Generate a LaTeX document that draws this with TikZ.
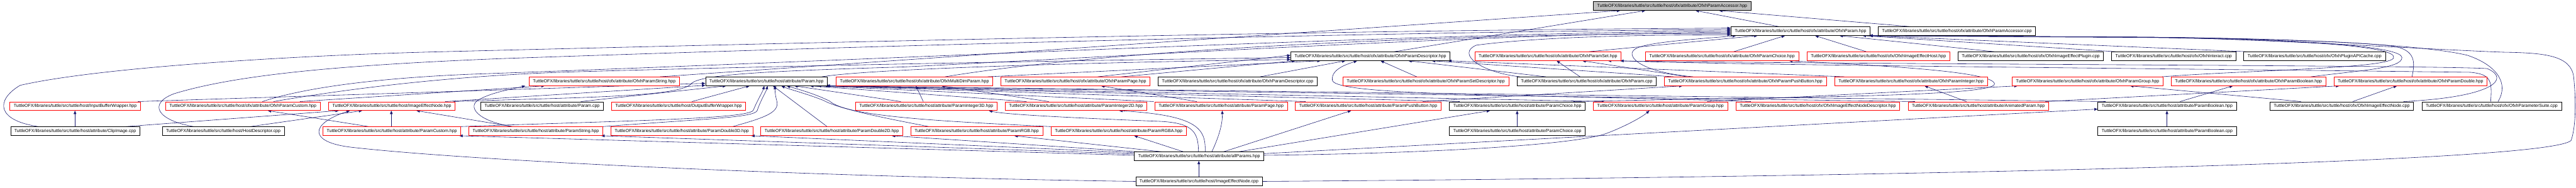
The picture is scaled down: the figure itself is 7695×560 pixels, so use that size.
\documentclass[tikz,border=0pt]{standalone}
\usepackage{fontspec}
\setmainfont{Liberation Sans}
\usepackage{graphicx}
\usetikzlibrary{arrows.meta}
\pgfdeclarelayer{bg}
\pgfsetlayers{bg,main}
\definecolor{edgeblue}{HTML}{191970}
\definecolor{rootgray}{HTML}{BFBFBF}
\newcommand\pre{TuttleOFX/libraries/tuttle/src/tuttle/host/}
\newcommand\bx[6]{\pgfmathsetmacro\bxw{#4-#3}\pgfmathsetmacro\bxt{#4-#3-23}%
  \node[#2, minimum width=\bxw pt] (#1) at (#3,#5) {\resizebox{\bxt pt}{!}{#6}};}
\newcommand\ed[4]{\draw[lnk] (#1.north -| #2,0) -- (#3.south -| #4,0);}
\tikzset{
  nb/.style={draw=black, line width=1.2pt, fill=white, inner sep=0pt, minimum height=26pt, anchor=west},
  nr/.style={nb, draw=red},
  ng/.style={nb, fill=rootgray},
  lnk/.style={draw=edgeblue, line width=1.1pt, -{Triangle[length=10pt,width=8pt]}}
}
\begin{document}
\begin{tikzpicture}[x=1pt, y=-1pt]
\useasboundingbox (0,0) rectangle (7695,560);
% ---------- nodes ----------
\bx{acchpp}{ng}{4759}{5230}{18}{\pre ofx/attribute/OfxhParamAccessor.hpp}
\bx{ofxparamhpp}{nb}{5170}{5586}{93}{\pre ofx/attribute/OfxhParam.hpp}
\bx{acccpp}{nb}{5610}{6080}{93}{\pre ofx/attribute/OfxhParamAccessor.cpp}
\bx{pdeschpp}{nb}{3855}{4331}{168}{\pre ofx/attribute/OfxhParamDescriptor.hpp}
\bx{psethpp}{nr}{4405}{4842}{168}{\pre ofx/attribute/OfxhParamSet.hpp}
\bx{pchoicehpp}{nr}{4915}{5372}{168}{\pre ofx/attribute/OfxhParamChoice.hpp}
\bx{iehosthpp}{nr}{5397}{5824}{168}{\pre ofx/OfxhImageEffectHost.hpp}
\bx{ieplugincpp}{nb}{5848}{6283}{168}{\pre ofx/OfxhImageEffectPlugin.cpp}
\bx{interactcpp}{nb}{6307}{6678}{168}{\pre ofx/OfxhInteract.cpp}
\bx{apicachecpp}{nb}{6702}{7125}{168}{\pre ofx/OfxhPluginAPICache.cpp}
\bx{pstringhpp}{nr}{1580}{2029}{243}{\pre ofx/attribute/OfxhParamString.hpp}
\bx{paramhpp}{nb}{2107}{2471}{243}{\pre attribute/Param.hpp}
\bx{multidimhpp}{nr}{2497}{2965}{243}{\pre ofx/attribute/OfxhMultiDimParam.hpp}
\bx{ppagehpp}{nr}{2989}{3435}{243}{\pre ofx/attribute/OfxhParamPage.hpp}
\bx{pdesccpp}{nb}{3459}{3934}{243}{\pre ofx/attribute/OfxhParamDescriptor.cpp}
\bx{psetdeschpp}{nr}{4011}{4506}{243}{\pre ofx/attribute/OfxhParamSetDescriptor.hpp}
\bx{ofxparamcpp}{nb}{4531}{4947}{243}{\pre ofx/attribute/OfxhParam.cpp}
\bx{pushbhpp}{nr}{4971}{5455}{243}{\pre ofx/attribute/OfxhParamPushButton.hpp}
\bx{pinthpp}{nr}{5480}{5936}{243}{\pre ofx/attribute/OfxhParamInteger.hpp}
\bx{pgrouphpp}{nr}{6010}{6461}{243}{\pre ofx/attribute/OfxhParamGroup.hpp}
\bx{pboolhpp}{nr}{6485}{6947}{243}{\pre ofx/attribute/OfxhParamBoolean.hpp}
\bx{pdoublehpp}{nr}{6971}{7429}{243}{\pre ofx/attribute/OfxhParamDouble.hpp}
\bx{inbuf}{nr}{29}{419}{317}{\pre InputBufferWrapper.hpp}
\bx{pcustomhpp}{nr}{494}{956}{317}{\pre ofx/attribute/OfxhParamCustom.hpp}
\bx{ienodehpp}{nr}{981}{1359}{317}{\pre ImageEffectNode.hpp}
\bx{paramcpp}{nb}{1435}{1802}{317}{\pre attribute/Param.cpp}
\bx{outbuf}{nr}{1826}{2227}{317}{\pre OutputBufferWrapper.hpp}
\bx{int3d}{nr}{2555}{2978}{317}{\pre attribute/ParamInteger3D.hpp}
\bx{int2d}{nr}{3002}{3425}{317}{\pre attribute/ParamInteger2D.hpp}
\bx{page}{nr}{3449}{3845}{317}{\pre attribute/ParamPage.hpp}
\bx{push}{nr}{3869}{4304}{317}{\pre attribute/ParamPushButton.hpp}
\bx{choicehpp}{nb}{4329}{4735}{317}{\pre attribute/ParamChoice.hpp}
\bx{group}{nr}{4759}{5160}{317}{\pre attribute/ParamGroup.hpp}
\bx{ienodedesc}{nr}{5185}{5674}{317}{\pre ofx/OfxhImageEffectNodeDescriptor.hpp}
\bx{animated}{nr}{5699}{6119}{317}{\pre attribute/AnimatedParam.hpp}
\bx{boolhpp}{nb}{6266}{6680}{317}{\pre attribute/ParamBoolean.hpp}
\bx{ofxienodecpp}{nb}{6780}{7209}{317}{\pre ofx/OfxhImageEffectNode.cpp}
\bx{psuite}{nb}{7234}{7651}{317}{\pre ofx/OfxhParameterSuite.cpp}
\bx{clip}{nb}{31}{417}{392}{\pre attribute/ClipImage.cpp}
\bx{hostdesc}{nb}{484}{849}{392}{\pre HostDescriptor.cpp}
\bx{custom}{nr}{964}{1376}{392}{\pre attribute/ParamCustom.hpp}
\bx{string}{nr}{1400}{1800}{392}{\pre attribute/ParamString.hpp}
\bx{dbl3d}{nr}{1824}{2248}{392}{\pre attribute/ParamDouble3D.hpp}
\bx{dbl2d}{nr}{2272}{2696}{392}{\pre attribute/ParamDouble2D.hpp}
\bx{rgb}{nr}{2720}{3114}{392}{\pre attribute/ParamRGB.hpp}
\bx{rgba}{nr}{3139}{3543}{392}{\pre attribute/ParamRGBA.hpp}
\bx{choicecpp}{nb}{4329}{4735}{392}{\pre attribute/ParamChoice.cpp}
\bx{boolcpp}{nb}{6266}{6680}{392}{\pre attribute/ParamBoolean.cpp}
\bx{allparams}{nb}{3388}{3775}{467}{\pre attribute/allParams.hpp}
\bx{ienodecpp}{nb}{3392}{3770}{542}{\pre ImageEffectNode.cpp}
% ---------- edges ----------
\begin{pgfonlayer}{bg}
\fill[white] (0,0) rectangle (7695,560);
% straight
\ed{pstringhpp}{1971}{acchpp}{4840}
\ed{pdeschpp}{4165}{acchpp}{4915}
\ed{ofxparamhpp}{5314}{acchpp}{5065}
\ed{acccpp}{5706}{acchpp}{5135}
\ed{psethpp}{4746}{ofxparamhpp}{5250}
\ed{pchoicehpp}{5179}{ofxparamhpp}{5332}
\ed{iehosthpp}{5575}{ofxparamhpp}{5422}
\ed{ieplugincpp}{5957}{ofxparamhpp}{5495}
\ed{interactcpp}{6320}{ofxparamhpp}{5564}
\ed{apicachecpp}{6710}{ofxparamhpp}{5584}
\ed{ppagehpp}{3350}{pdeschpp}{3869}
\ed{multidimhpp}{2950}{pdeschpp}{3945}
\ed{pdesccpp}{3764}{pdeschpp}{4019}
\ed{psetdeschpp}{4232}{pdeschpp}{4124}
\ed{ofxparamcpp}{4618}{pdeschpp}{4207}
\ed{pushbhpp}{5000}{pdeschpp}{4277}
\ed{pinthpp}{5510}{pdeschpp}{4326}
\ed{ofxparamcpp}{4720}{psethpp}{4650}
\ed{pushbhpp}{5040}{psethpp}{4727}
\ed{pcustomhpp}{896}{pstringhpp}{1627}
\ed{paramcpp}{1735}{paramhpp}{2169}
\ed{outbuf}{2067}{paramhpp}{2239}
\ed{dbl2d}{2471}{paramhpp}{2309}
\ed{int3d}{2691}{paramhpp}{2373}
\ed{int2d}{3066}{paramhpp}{2420}
\ed{page}{3446}{paramhpp}{2443}
\ed{push}{3900}{paramhpp}{2464}
\ed{choicehpp}{4360}{paramhpp}{2466}
\ed{group}{4790}{paramhpp}{2468}
\ed{animated}{5720}{paramhpp}{2469}
\ed{boolhpp}{6290}{paramhpp}{2469}
\ed{int3d}{2758}{multidimhpp}{2736}
\ed{int2d}{3133}{multidimhpp}{2812}
\ed{page}{3575}{ppagehpp}{3289}
\ed{push}{4250}{pushbhpp}{5026}
\ed{group}{5100}{pgrouphpp}{6027}
\ed{ofxienodecpp}{6873}{pgrouphpp}{6363}
\ed{boolhpp}{6512}{pboolhpp}{6670}
\ed{animated}{6110}{pdoublehpp}{6988}
\ed{ofxienodecpp}{7028}{pdoublehpp}{7160}
\ed{animated}{5874}{pinthpp}{5749}
\ed{clip}{224}{inbuf}{224}
\ed{custom}{1103}{pcustomhpp}{800}
\ed{clip}{373}{ienodehpp}{1012}
\ed{hostdesc}{746}{ienodehpp}{1082}
\ed{custom}{1169}{ienodehpp}{1169}
\ed{string}{1532}{ienodehpp}{1244}
\ed{allparams}{3655}{push}{4036}
\ed{allparams}{3700}{choicehpp}{4451}
\ed{choicecpp}{4532}{choicehpp}{4532}
\ed{boolcpp}{6473}{boolhpp}{6473}
\ed{ienodecpp}{3581}{allparams}{3581}
\ed{allparams}{3398}{dbl2d}{2664}
\ed{allparams}{3470}{rgb}{3030}
\ed{allparams}{3535}{rgba}{3388}
\draw[lnk] (inbuf.north -| 412,0) -- (paramhpp.west |- 0,249);
\draw[lnk] (ienodehpp.north -| 1330,0) -- (paramhpp.west |- 0,255);
\draw[lnk] (ppagehpp.north -| 3279,0) -- (pdeschpp.west |- 0,165);
\draw[lnk] (allparams.west |- 0,464) -- (custom.south -| 1372,0);
\draw[lnk] (allparams.west |- 0,460) -- (string.south -| 1796,0);
\draw[lnk] (allparams.west |- 0,456) -- (dbl3d.south -| 2244,0);
\draw[lnk] (allparams.east |- 0,459) -- (boolhpp.west |- 0,326);
% curves, left side to the top
\draw[lnk] (clip.north -| 116,0) .. controls (-10,360) and (-15,300) .. (60,255) .. controls (300,200) and (900,165) .. (1300,155) .. controls (2500,125) and (4000,90) .. (ofxparamhpp.west |- 0,84);
\draw[lnk] (hostdesc.north -| 580,0) .. controls (470,360) and (440,310) .. (520,280) .. controls (700,225) and (1000,195) .. (1500,175) .. controls (2800,130) and (4200,95) .. (ofxparamhpp.west |- 0,88);
\draw[lnk] (pcustomhpp.north -| 784,0) .. controls (900,265) and (1100,235) .. (1400,222) .. controls (2600,180) and (4200,100) .. (ofxparamhpp.west |- 0,92);
\draw[lnk] (ienodehpp.north -| 1355,0) .. controls (1750,290) and (2030,290) .. (2065,250) .. controls (2090,222) and (2300,212) .. (2700,200) .. controls (3500,160) and (4500,100) .. (ofxparamhpp.west |- 0,96);
\draw[lnk] (multidimhpp.north -| 2823,0) .. controls (3300,150) and (4300,100) .. (ofxparamhpp.west |- 0,100);
\draw[lnk] (ofxparamcpp.north -| 4540,0) .. controls (4420,215) and (4350,160) .. (4410,135) .. controls (4600,110) and (4900,104) .. (ofxparamhpp.west |- 0,104);
\draw[lnk] (pushbhpp.north -| 5058,0) .. controls (4900,215) and (4860,170) .. (4880,150) .. controls (4900,125) and (5100,115) .. (ofxparamhpp.south -| 5186,0);
\draw[lnk] (pcustomhpp.north -| 817,0) .. controls (1100,255) and (1400,225) .. (1700,215) .. controls (2500,192) and (3400,178) .. (pdeschpp.west |- 0,172);
\draw[lnk] (paramhpp.north -| 2455,0) .. controls (2600,205) and (3300,185) .. (pdeschpp.west |- 0,178);
% curves, right side around
\draw[lnk] (pgrouphpp.north -| 6458,0) .. controls (6700,210) and (7150,205) .. (7150,172) .. controls (7160,140) and (6900,118) .. (6400,112) .. controls (6000,110) and (5750,108) .. (ofxparamhpp.south -| 5584,0);
\draw[lnk] (pboolhpp.north -| 6903,0) .. controls (7050,210) and (7175,205) .. (7175,172) .. controls (7175,140) and (6900,116) .. (6400,111) .. controls (6000,109) and (5750,107) .. (ofxparamhpp.south -| 5584,0);
\draw[lnk] (pdoublehpp.north -| 7205,0) .. controls (7215,185) and (7215,150) .. (7150,138) .. controls (7000,120) and (6600,113) .. (6400,111) .. controls (6000,109) and (5750,107) .. (ofxparamhpp.south -| 5584,0);
\draw[lnk] (psuite.north -| 7462,0) .. controls (7495,250) and (7460,195) .. (7370,165) .. controls (7200,125) and (6700,113) .. (6400,111) .. controls (6000,109) and (5750,107) .. (ofxparamhpp.south -| 5584,0);
\draw[lnk] (ienodecpp.east) .. controls (5500,530) and (7600,490) .. (7680,420) .. controls (7695,380) and (7695,300) .. (7688,230) .. controls (7680,165) and (7600,158) .. (7480,156) .. controls (7300,150) and (6700,113) .. (6400,111) .. controls (6000,109) and (5750,107) .. (ofxparamhpp.south -| 5584,0);
\draw[lnk] (ofxienodecpp.north -| 7180,0) .. controls (7450,290) and (7500,235) .. (7430,205) .. controls (7300,195) and (5500,192) .. (psethpp.south -| 4803,0);
\draw[lnk] (psuite.north -| 7440,0) .. controls (7445,240) and (7440,222) .. (7380,216) .. controls (6500,205) and (5200,195) .. (psethpp.south -| 4840,0);
\draw[lnk] (choicehpp.north -| 4700,0) .. controls (5300,290) and (5965,290) .. (5958,250) .. controls (5950,212) and (5600,195) .. (pchoicehpp.south -| 5344,0);
\draw[lnk] (ienodedesc.north -| 5230,0) .. controls (4600,282) and (3990,288) .. (3980,240) .. controls (3975,205) and (4030,190) .. (pdeschpp.south -| 4054,0);
% curves, lower middle
\draw[lnk] (string.north -| 1532,0) .. controls (1425,362) and (1395,318) .. (1430,298) .. controls (1470,275) and (1540,264) .. (pstringhpp.south -| 1569,0);
\draw[lnk] (custom.north -| 1370,0) .. controls (1900,360) and (2230,355) .. (2250,330) .. controls (2262,300) and (2278,275) .. (paramhpp.south -| 2283,0);
\draw[lnk] (string.north -| 1799,0) .. controls (2100,355) and (2255,352) .. (2262,330) .. controls (2272,300) and (2288,275) .. (paramhpp.south -| 2293,0);
\draw[lnk] (dbl3d.north -| 2188,0) .. controls (2290,350) and (2330,335) .. (2320,300) .. controls (2315,282) and (2315,268) .. (paramhpp.south -| 2315,0);
\draw[lnk] (rgb.north -| 2776,0) .. controls (2600,345) and (2500,322) .. (2460,300) .. controls (2410,280) and (2355,266) .. (paramhpp.south -| 2334,0);
\draw[lnk] (rgba.north -| 3142,0) .. controls (2800,362) and (2530,348) .. (2478,302) .. controls (2430,278) and (2375,264) .. (paramhpp.south -| 2350,0);
\draw[lnk] (allparams.north -| 3580,0) .. controls (3580,390) and (3560,365) .. (3450,362) .. controls (3200,352) and (3000,342) .. (int3d.south -| 2954,0);
\draw[lnk] (allparams.north -| 3600,0) .. controls (3602,385) and (3580,345) .. (int2d.south -| 3343,0);
\draw[lnk] (allparams.north -| 3620,0) .. controls (3645,400) and (3652,365) .. (page.south -| 3651,0);
\draw[lnk] (allparams.east |- 0,464) .. controls (4300,458) and (4700,432) .. (4795,400) .. controls (4850,380) and (4905,350) .. (group.south -| 4927,0);
\draw[lnk] (ienodecpp.west) .. controls (2400,528) and (1400,480) .. (1050,440) .. controls (920,425) and (925,370) .. (ienodehpp.south -| 1045,0);
\end{pgfonlayer}
\end{tikzpicture}
\end{document}
